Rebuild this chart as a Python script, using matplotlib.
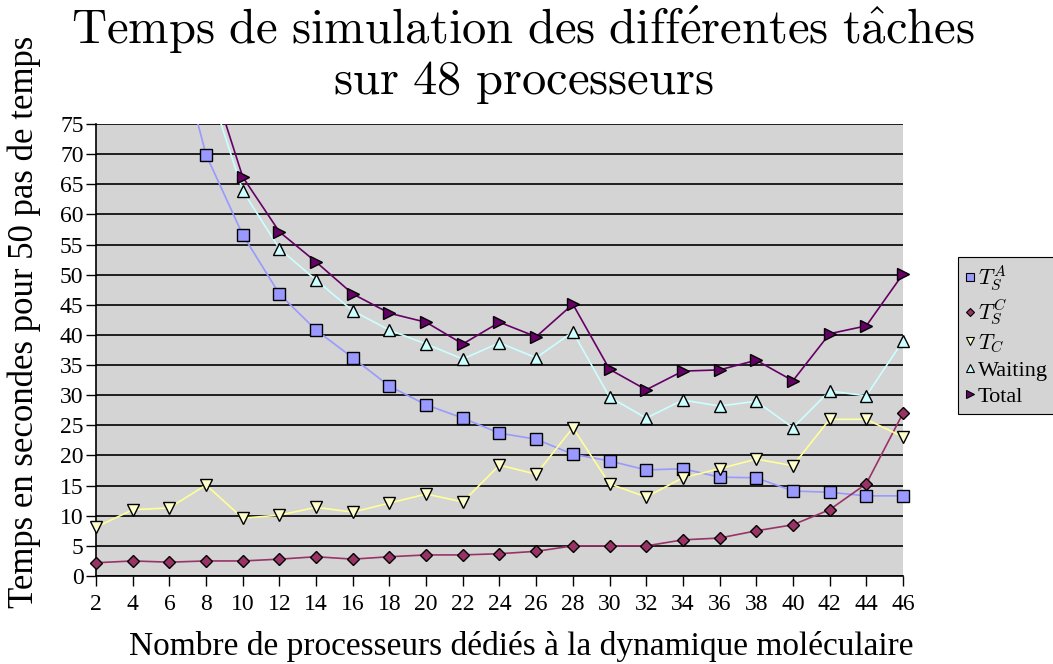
import numpy as np
import matplotlib
matplotlib.use('Agg')
import matplotlib.pyplot as plt

plt.rcParams['mathtext.fontset'] = 'cm'
plt.rcParams['font.family'] = ['Liberation Serif', 'DejaVu Serif']

# nombre de processeurs dedies a la dynamique moleculaire
procs = [2, 4, 6, 8, 10, 12, 14, 16, 18, 20, 22, 24, 26, 28, 30, 32, 34, 36, 38, 40, 42, 44, 46]

# temps (s) pour 50 pas
t_sa = [280, 140, 93, 69.9, 56.6, 46.8, 40.8, 36.2, 31.5, 28.4, 26.2, 23.7, 22.7, 20.2,
        19.1, 17.6, 17.8, 16.4, 16.3, 14.1, 13.9, 13.3, 13.3]
t_sc = [2.2, 2.5, 2.3, 2.5, 2.5, 2.8, 3.2, 2.8, 3.2, 3.5, 3.5, 3.7, 4.1, 5.0,
        5.0, 5.0, 6.0, 6.3, 7.5, 8.5, 11.0, 15.3, 27.0]
t_c = [8.1, 11.0, 11.3, 15.1, 9.6, 10.1, 11.4, 10.6, 12.1, 13.6, 12.3, 18.4, 16.9, 24.6,
       15.3, 13.1, 16.3, 17.8, 19.4, 18.3, 26.0, 26.0, 23.1]
waiting = [285.8, 148.6, 101.6, 82.7, 63.9, 54.3, 49.1, 44.0, 40.8, 38.5, 36.0, 38.7, 36.2, 40.5,
           29.7, 26.2, 29.2, 28.2, 29.0, 24.6, 30.7, 29.9, 39.0]
total = [288, 151, 104, 85.2, 66.2, 57.1, 52.1, 46.8, 43.6, 42.1, 38.5, 42.1, 39.7, 45.1,
         34.3, 30.9, 34.0, 34.2, 35.8, 32.4, 40.2, 41.5, 50.1]

series = [
    (t_sa, r'$T_S^A$', 's', '#9999ff', '#9999ff'),
    (t_sc, r'$T_S^C$', 'D', '#993366', '#993366'),
    (t_c, r'$T_C$', 'v', '#ffffcc', '#ffff99'),
    (waiting, 'Waiting', '^', '#ccffff', '#ccffff'),
    (total, 'Total', '>', '#660066', '#660066'),
]

fig = plt.figure(figsize=(10.53, 6.64), dpi=100)
ax = fig.add_axes([0.0912, 0.1325, 0.7663, 0.6808])
ax.set_facecolor('#d4d4d4')

ymax = 75
handles = []
for vals, lab, mk, fc, lc in series:
    v = np.array(vals, dtype=float)
    ax.plot(procs, v, color=lc, lw=1.2, zorder=3)
    vis = np.where(v <= ymax, v, np.nan)
    ax.plot(procs, vis, ls='none', marker=mk, ms=8 if mk != 'D' else 6.5,
            mfc=fc, mec='black', mew=1.0, clip_on=False, zorder=4)
    h, = ax.plot([], [], ls='none', marker=mk, ms=5.5 if mk != 'D' else 4.5,
                 mfc=fc, mec='black', mew=0.8, label=lab)
    handles.append(h)

ax.set_xlim(2, 46)
ax.set_ylim(0, ymax)
ax.set_xticks(procs)
ax.set_yticks(range(0, 80, 5))
ax.yaxis.grid(True, color='black', lw=1.2)
ax.set_axisbelow(True)
for s in ['top', 'right']:
    ax.spines[s].set_visible(False)
ax.spines['left'].set_linewidth(1.2)
ax.spines['bottom'].set_linewidth(1.2)
ax.tick_params(axis='both', length=7, width=1, direction='out')
ax.tick_params(axis='x', labelsize=17, pad=6)
ax.tick_params(axis='y', labelsize=17, pad=2)

titre = (r'$\mathrm{Temps\ de\ simulation\ des\ diff\acute{e}rentes\ t\hat{a}ches}$' + '\n'
         + r'$\mathrm{sur\ 48\ processeurs}$')
fig.suptitle(titre, fontsize=35, y=0.995, x=0.497, linespacing=1.1)
ax.set_xlabel('Nombre de processeurs dédiés à la dynamique moléculaire', fontsize=24)
ax.xaxis.set_label_coords(0.527, -0.122)
ax.set_ylabel('Temps en secondes pour 50 pas de temps', fontsize=25)
ax.yaxis.set_label_coords(-0.068, 0.562)

leg = fig.legend(handles=handles, loc='upper left', bbox_to_anchor=(0.9098, 0.613),
                 borderaxespad=0, frameon=True, fancybox=False, edgecolor='black',
                 facecolor='#d4d4d4', framealpha=1, handlelength=0.5, handletextpad=0.1,
                 borderpad=0.3, labelspacing=0.25, prop={'size': 16})
leg.get_frame().set_linewidth(0.8)

fig.savefig('out.png', dpi=100)
